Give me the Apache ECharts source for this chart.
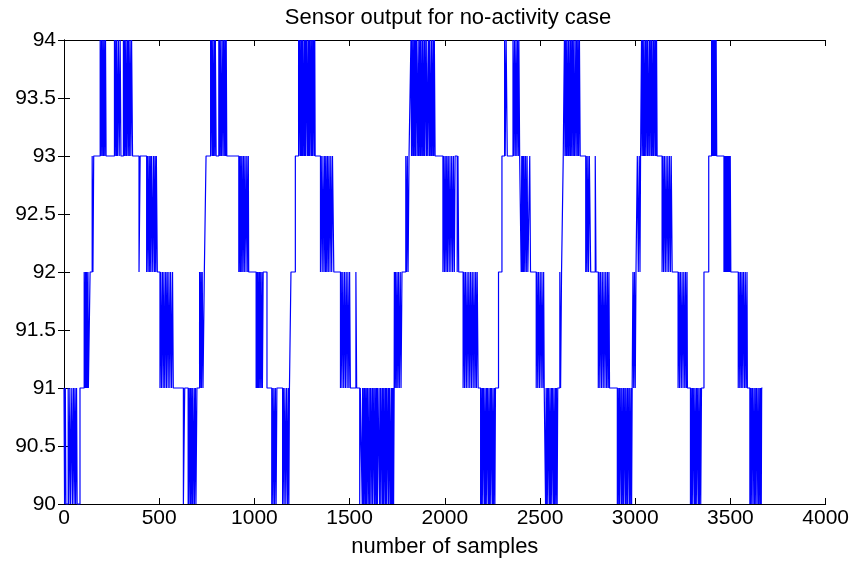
<!DOCTYPE html>
<html>
<head>
<meta charset="utf-8">
<script src="https://cdn.jsdelivr.net/npm/echarts@6/dist/echarts.min.js"></script>
<style>
html,body{margin:0;padding:0;background:#fff;}
#chart{width:852px;height:563px;}
</style>
</head>
<body>
<div id="chart"></div>
<script>
// ---- Data ----
const chartTitle = 'Sensor output for no-activity case';
const xLabel = 'number of samples';
const xTicks = [0, 500, 1000, 1500, 2000, 2500, 3000, 3500, 4000];
const yTicks = [90, 90.5, 91, 91.5, 92, 92.5, 93, 93.5, 94];

// Sensor reading changes: [sample index where the level starts, level]
const stepsPart1 = [
 [0,91],[3,90],[7,91],[10,90],[22,91],[25,90],[31,91],[34,90],[41,91],[44,90],[50,91],[53,90],[58,91],[61,90],[66,91],[69,90],[84,91],
 [106,92],[110,91],[113,92],[116,91],[119,92],[122,91],[126,92],[128,91],[137,92],
 [148,93],[152,92],[156,93],
 [190,94],[193,93],[197,94],[200,93],[204,94],[207,93],[211,94],[214,93],[218,94],[221,93],
 [265,94],[268,93],[272,94],[275,93],[277,94],[281,93],[286,94],[290,93],[295,94],[299,93],[312,94],[315,93],[318,94],[321,93],[325,94],[328,93],[333,94],[336,93],[339,94],[343,93],[347,94],[351,93],[355,94],[360,93],
 [394,92],[400,93],
 [434,92],[438,93],[442,92],[446,93],[450,92],[453,93],[457,92],[460,93],[466,92],[470,93],[475,92],[478,93],[482,92],[485,93],[490,92],
 [504,91],[508,92],[512,91],[517,92],[521,91],[525,92],[529,91],[534,92],[538,91],[542,92],[547,91],[551,92],[556,91],[560,92],[565,91],[570,92],[574,91],
 [627,90],[634,91],[652,90],[655,91],[657,90],[662,91],[665,90],[667,91],[672,90],[674,91],[677,90],[683,91],[685,90],[690,91],[693,90],[698,91],
 [712,92],[715,91],[719,92],[722,91],[726,92],[730,91],[737,92],
 [746,93],
 [770,94],[772,93],[775,94],[780,93],[782,94],[785,93],[790,94],[792,93],[795,94],[799,93],[813,94],[816,93],[818,94],[823,93],[825,94],[828,93],[834,94],[836,93],[839,94],[844,93],[846,94],[849,93],[852,94],[855,93],
 [918,92],[921,93],[925,92],[928,93],[931,92],[935,93],[939,92],[943,93],[947,92],[951,93],[956,92],[960,93],[965,92],[968,93],[970,92]
];
const stepsPart2 = [
 [1009,91],[1012,92],[1015,91],[1018,92],[1021,91],[1025,92],[1028,91],[1031,92],[1035,91],[1039,92],[1042,91],[1046,92],[1066,91],
 [1091,90],[1094,91],[1098,90],[1102,91],[1106,90],[1110,91],[1114,90],[1118,91],[1148,90],[1152,91],[1156,90],[1160,91],[1165,90],[1169,91],[1174,90],[1178,91],[1181,90],[1184,91],
 [1192,92],[1215,93],
 [1232,94],[1234,93],[1237,94],[1242,93],[1244,94],[1246,93],[1250,94],[1252,93],[1254,94],[1259,93],[1262,94],[1264,93],[1268,94],[1270,93],[1273,94],[1279,93],[1281,94],[1283,93],[1287,94],[1289,93],[1292,94],[1297,93],[1299,94],[1302,93],[1306,94],[1308,93],[1311,94],[1316,93],[1317,94],[1319,93],
 [1347,92],[1351,93],[1356,92],[1360,93],[1365,92],[1369,93],[1373,92],[1376,93],[1380,92],[1384,93],[1388,92],[1392,93],[1397,92],[1401,93],[1406,92],[1410,93],[1417,92],
 [1452,91],[1456,92],[1460,91],[1464,92],[1469,91],[1473,92],[1478,91],[1482,92],[1487,91],[1491,92],[1496,91],[1500,92],[1504,91],[1533,92],[1537,91],
 [1553,90],[1556,91],[1566,90],[1568,91],[1571,90],[1575,91],[1577,90],[1579,91],[1584,90],[1586,91],[1588,90],[1593,91],[1596,90],[1597,91],[1603,90],[1606,91],[1608,90],[1611,91],[1617,90],[1619,91],[1621,90],[1624,91],[1630,90],[1632,91],[1634,90],[1639,91],[1641,90],[1644,91],[1646,90],[1649,91],[1657,90],[1659,91],[1661,90],[1664,91],[1670,90],[1672,91],[1675,90],[1677,91],[1680,90],[1685,91],[1688,90],[1690,91],[1693,90],[1696,91],[1702,90],[1704,91],[1707,90],[1709,91],[1715,90],[1718,91],[1720,90],[1723,91],[1726,90],[1728,91],[1731,90],[1734,91],
 [1735,92],[1738,91],[1741,92],[1745,91],[1749,92],[1753,91],[1757,92],[1761,91],[1766,92],[1770,91],[1775,92],
 [1795,93],[1799,92],[1803,93],[1807,92],[1812,93],
 [1822,94],[1825,93],[1827,94],[1832,93],[1834,94],[1836,93],[1841,94],[1843,93],[1846,94],[1849,93],[1851,94],[1858,93],[1860,94],[1863,93],[1868,94],[1870,93],[1872,94],[1875,93],[1880,94],[1882,93],[1884,94],[1889,93],[1892,94],[1894,93],[1897,94],[1903,93],[1905,94],[1908,93],[1915,94],[1917,93],[1919,94],[1923,93],[1928,94],[1930,93],[1932,94],[1937,93],[1940,94],[1942,93],[1945,94],[1949,93],
 [1990,92],[1994,93],[1998,92]
];
const stepsPart3 = [
 [2002,93],[2006,92],[2010,93],[2014,92],[2018,93],[2023,92],[2027,93],[2032,92],[2036,93],[2041,92],[2045,93],[2050,92],[2054,93],[2065,92],[2069,93],[2073,92],
 [2096,91],[2100,92],[2104,91],[2108,92],[2113,91],[2117,92],[2122,91],[2126,92],[2131,91],[2135,92],[2140,91],[2144,92],[2149,91],[2153,92],[2158,91],[2162,92],[2166,91],[2170,92],[2175,91],
 [2188,90],[2191,91],[2193,90],[2198,91],[2200,90],[2203,91],[2209,90],[2211,91],[2214,90],[2219,91],[2221,90],[2224,91],[2230,90],[2232,91],[2235,90],[2240,91],[2242,90],[2245,91],[2251,90],[2253,91],[2256,90],[2261,91],[2263,90],[2266,91],
 [2282,92],[2300,93],[2314,94],[2317,93],[2322,94],[2328,93],
 [2358,94],[2362,93],[2366,94],[2370,93],[2374,94],[2378,93],[2382,94],[2386,93],[2389,94],[2393,93],
 [2401,92],[2404,93],[2407,92],[2410,93],[2413,92],[2416,93],[2420,92],[2424,93],[2428,92],[2432,93],[2436,92],[2446,93],[2450,92],
 [2480,91],[2484,92],[2488,91],[2492,92],[2497,91],[2501,92],[2506,91],[2510,92],[2515,91],[2519,92],[2522,91],
 [2529,90],[2532,91],[2534,90],[2539,91],[2541,90],[2544,91],[2550,90],[2552,91],[2555,90],[2560,91],[2562,90],[2565,91],[2571,90],[2573,91],[2576,90],[2581,91],[2583,90],[2586,91],[2590,90],[2593,91],
 [2604,92],[2608,91],[2613,92],[2622,93],
 [2628,94],[2631,93],[2633,94],[2638,93],[2640,94],[2643,93],[2648,94],[2650,93],[2652,94],[2657,93],[2660,94],[2662,93],[2667,94],[2669,93],[2672,94],[2677,93],[2679,94],[2682,93],[2688,94],[2690,93],[2693,94],[2698,93],[2700,94],[2703,93],[2707,94],[2711,93],
 [2740,92],[2743,93],[2747,92],[2751,93],[2755,92],[2759,93],[2766,92],[2790,93],[2794,92],
 [2806,91],[2810,92],[2814,91],[2818,92],[2823,91],[2827,92],[2832,91],[2836,92],[2841,91],[2845,92],[2850,91],[2854,92],[2858,91],[2862,92],[2865,91],
 [2906,90],[2909,91],[2911,90],[2916,91],[2918,90],[2921,91],[2927,90],[2929,91],[2932,90],[2937,91],[2939,90],[2942,91],[2948,90],[2950,91],[2953,90],[2958,91],[2960,90],[2963,91],[2969,90],[2971,91],[2974,90],[2979,91],[2981,90],[2984,91],
 [2988,92],[2992,91],[2996,92]
];
const stepsPart4 = [
 [3000,91],[3004,92],
 [3011,93],[3016,92],[3021,93],[3025,92],[3028,93],
 [3033,94],[3036,93],[3038,94],[3043,93],[3045,94],[3048,93],[3053,94],[3055,93],[3058,94],[3063,93],[3065,94],[3068,93],[3074,94],[3076,93],[3079,94],[3084,93],[3086,94],[3089,93],[3094,94],[3096,93],[3099,94],[3104,93],[3106,94],[3109,93],[3112,94],[3115,93],
 [3141,92],[3145,93],[3149,92],[3153,93],[3158,92],[3162,93],[3167,92],[3171,93],[3176,92],[3180,93],[3185,92],[3189,93],[3194,92],
 [3225,91],[3229,92],[3233,91],[3237,92],[3242,91],[3246,92],[3251,91],[3255,92],[3260,91],[3264,92],[3268,91],[3272,92],[3274,91],
 [3290,90],[3293,91],[3295,90],[3300,91],[3302,90],[3305,91],[3311,90],[3313,91],[3316,90],[3321,91],[3323,90],[3326,91],[3332,90],[3334,91],[3337,90],[3342,91],[3344,90],[3348,91],
 [3361,92],[3386,93],
 [3401,94],[3404,93],[3407,94],[3410,93],[3413,94],[3416,93],[3419,94],[3422,93],[3425,94],[3428,93],
 [3466,92],[3469,93],[3472,92],[3475,93],[3478,92],[3481,93],[3484,92],[3487,93],[3490,92],[3493,93],[3496,92],[3499,93],[3502,92],
 [3541,91],[3545,92],[3549,91],[3553,92],[3557,91],[3561,92],[3565,91],[3569,92],[3574,91],[3578,92],[3582,91],[3587,92],[3589,91],
 [3602,90],[3605,91],[3607,90],[3612,91],[3614,90],[3617,91],[3623,90],[3625,91],[3628,90],[3633,91],[3635,90],[3638,91],[3644,90],[3646,91],[3649,90],[3654,91],[3656,90],[3659,91],[3662,90],[3664,91],
 [3668,91]
];

const steps = stepsPart1.concat(stepsPart2, stepsPart3, stepsPart4);

const chart = echarts.init(document.getElementById('chart'), null, {renderer: 'canvas'});
const fontFam = 'Liberation Sans, Arial, Helvetica, sans-serif';
const axisCommon = {
  axisLine: {show: true, lineStyle: {color: '#000', width: 1}},
  splitLine: {show: false},
};
chart.setOption({
  animation: false,
  backgroundColor: '#fff',
  title: {
    text: chartTitle,
    left: 443, top: 2, textAlign: 'center',
    textStyle: {fontFamily: fontFam, fontSize: 22, fontWeight: 'normal', color: '#000'}
  },
  grid: {left: 64, right: 25, top: 40, bottom: 51, containLabel: false},
  xAxis: [{
    type: 'value', min: xTicks[0], max: xTicks[xTicks.length - 1], interval: 500,
    position: 'bottom',
    name: xLabel, nameLocation: 'middle', nameGap: 32,
    nameTextStyle: {fontFamily: fontFam, fontSize: 22, color: '#000'},
    ...axisCommon,
    axisTick: {show: true, inside: true, length: 6, lineStyle: {color: '#000'}},
    axisLabel: {show: true, fontFamily: fontFam, fontSize: 21, color: '#000', margin: 4,
      formatter: function (v) { return String(v); }}
  }, {
    type: 'value', min: xTicks[0], max: xTicks[xTicks.length - 1], interval: 500,
    position: 'top',
    ...axisCommon,
    axisTick: {show: true, inside: true, length: 6, lineStyle: {color: '#000'}},
    axisLabel: {show: false}
  }],
  yAxis: [{
    type: 'value', min: yTicks[0], max: yTicks[yTicks.length - 1], interval: 0.5,
    position: 'left',
    ...axisCommon,
    axisTick: {show: true, inside: true, length: 6, lineStyle: {color: '#000'}},
    axisLabel: {show: true, fontFamily: fontFam, fontSize: 21, color: '#000', margin: 8,
      formatter: function (v) { return String(v); }}
  }, {
    type: 'value', min: yTicks[0], max: yTicks[yTicks.length - 1], interval: 0.5,
    position: 'right',
    ...axisCommon,
    axisTick: {show: true, inside: true, length: 6, lineStyle: {color: '#000'}},
    axisLabel: {show: false}
  }],
  series: [{
    type: 'line',
    data: steps,
    step: 'end',
    showSymbol: false,
    symbol: 'none',
    clip: false,
    xAxisIndex: 0, yAxisIndex: 0,
    lineStyle: {color: '#0000ff', width: 1.2},
    z: 1
  }]
});
</script>
</body>
</html>
